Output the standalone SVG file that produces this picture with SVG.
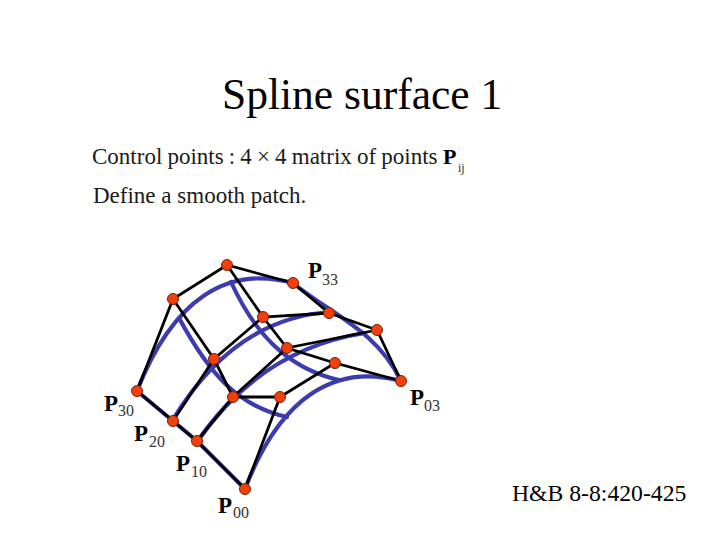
<svg xmlns="http://www.w3.org/2000/svg" width="720" height="540" viewBox="0 0 720 540">
<style>
text{font-family:"Liberation Serif","Times New Roman",serif;fill:#000}
.title{font-size:43.5px}
.body{font-size:23px;fill:#1a1a1a}
.ref{font-size:23.7px}
.p{font-size:23px;font-weight:bold}
.s{font-size:16px;fill:#333}
#blue path{fill:none;stroke:#3c3cb0;stroke-width:4.2;stroke-linecap:round}
#black path{fill:none;stroke:#000;stroke-width:2.8;stroke-linecap:round}
circle{r:5.5px;fill:#f0400c;stroke:#7a2008;stroke-width:1}
</style>
<rect width="720" height="540" fill="#fff"/>
<g id="title"><text class="title" x="222" y="109">Spline surface 1</text></g>
<g id="description">
<text class="body" x="92" y="164" word-spacing="-0.6">Control points : 4 × 4 matrix of points</text>
<text class="p" x="443" y="164" style="font-size:22px">P</text>
<text class="s" style="font-size:12px" x="458" y="172">ij</text>
<text class="body" x="93" y="203">Define a smooth patch.</text>
</g>
<g id="connectors">
<g id="blue">
<path d="M245 489C280 397 335 363 401 381"/>
<path d="M137 391C173 299 227 265 293 283"/>
<path d="M245 489L197 441L173 421L137 391"/>
<path d="M401 381C377 330 329 313 293 283"/>
<path d="M172 421C210 358 262 316 331 312"/>
<path d="M197 442C234 388 287 345 365 333"/>
<path d="M179 318C210 375 238 406 287 417"/>
<path d="M231 282C253 330 285 368 339 380"/>
</g>
<g id="black">
<path d="M245 489L280 397L335 363L401 381"/>
<path d="M197 441L233 397L287 348L377 330"/>
<path d="M173 421L214 359L263 317L329 313"/>
<path d="M137 391L173 299L227 265L293 283"/>
<path d="M245 489L197 441L173 421L137 391"/>
<path d="M280 397L233 397L214 359L173 299"/>
<path d="M335 363L287 348L263 317L227 265"/>
<path d="M401 381L377 330L329 313L293 283"/>
</g>
</g>
<g id="P00"><circle cx="245" cy="489"/><text class="p" x="218" y="513">P</text><text class="s" x="233" y="518">00</text></g>
<g id="P01"><circle cx="280" cy="397"/></g>
<g id="P02"><circle cx="335" cy="363"/></g>
<g id="P03"><circle cx="401" cy="381"/><text class="p" x="410" y="405">P</text><text class="s" x="424" y="411">03</text></g>
<g id="P10"><circle cx="197" cy="441"/><text class="p" x="176" y="471">P</text><text class="s" x="191" y="477">10</text></g>
<g id="P11"><circle cx="233" cy="397"/></g>
<g id="P12"><circle cx="287" cy="348"/></g>
<g id="P13"><circle cx="377" cy="330"/></g>
<g id="P20"><circle cx="173" cy="421"/><text class="p" x="134" y="441">P</text><text class="s" x="149" y="447">20</text></g>
<g id="P21"><circle cx="214" cy="359"/></g>
<g id="P22"><circle cx="263" cy="317"/></g>
<g id="P23"><circle cx="329" cy="313"/></g>
<g id="P30"><circle cx="137" cy="391"/><text class="p" x="104" y="411">P</text><text class="s" x="118" y="416">30</text></g>
<g id="P31"><circle cx="173" cy="299"/></g>
<g id="P32"><circle cx="227" cy="265"/></g>
<g id="P33"><circle cx="293" cy="283"/><text class="p" x="308" y="278">P</text><text class="s" x="322" y="285">33</text></g>
<g id="citation"><text class="ref" x="512" y="501">H&amp;B 8-8:420-425</text></g>
</svg>
